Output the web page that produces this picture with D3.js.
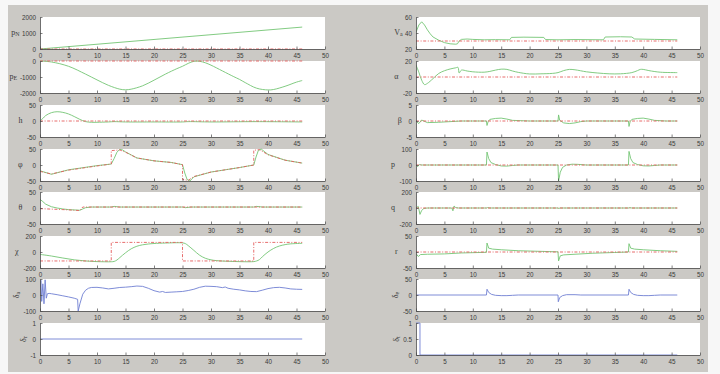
<!DOCTYPE html>
<html>
<head>
<meta charset="utf-8">
<script src="https://cdn.jsdelivr.net/npm/d3@7"></script>
<style>
  html, body { margin: 0; padding: 0; background: #f7f7f7; }
  svg { display: block; font-family: "Liberation Sans", Arial, sans-serif; }
</style>
</head>
<body>
<svg id="fig" width="720" height="374"></svg>
<script>
// ---- time-history data: [t (s), value] ----
const xTicks = [0, 5, 10, 15, 20, 25, 30, 35, 40, 45, 50];

// left column: position / attitude / aileron / rudder
const pNCmd = [[0, 0], [46, 0]];
const pN = [[0, 0], [46, 1370]];
const pECmd = [[0, 0], [46, 0]];
const pE = [[0, 0], [2, -60], [5, -330], [8, -820], [10, -1180], [12, -1520], [14, -1760], [15, -1800], [16, -1760], [18, -1550], [20, -1200], [22, -820], [24, -480], [25, -330], [26, -150], [27, -20], [28, -20], [29, -110], [30, -260], [32, -620], [34, -980], [35, -1150], [36, -1350], [38, -1700], [40, -1810], [41, -1780], [43, -1580], [45, -1320], [46, -1220]];
const hCmd = [[0, 0], [46, 0]];
const h = [[0, 0], [0.5, 8], [1, 17], [2, 26], [3, 29], [4, 27], [5, 22], [6, 14], [7, 5], [8, -2], [9, -4], [10, -4], [12, -3], [13, -2], [15, -3], [20, -3], [25, -3], [26, -2], [30, -3], [38, -2], [46, -3]];
const phiCmd = [[0, -20], [2, -28], [5, -16], [10, -3], [12.5, 3], [12.5, 45], [14, 47], [15, 40], [17, 22], [20, 13], [23, 8], [25, 1], [25, -45], [26, -48], [27, -36], [30, -22], [35, -8], [37.5, 0], [37.5, 46], [38.5, 48], [40, 32], [43, 15], [46, 6]];
const phi = [[0, -18], [2, -29], [5, -15], [10, -2], [12.5, 3], [13, 20], [13.5, 40], [14, 49], [14.5, 47], [15, 41], [17, 22], [20, 13], [23, 8], [25, 1], [25.4, -25], [25.8, -45], [26.3, -50], [27, -37], [30, -22], [35, -8], [37.5, 0], [37.9, 25], [38.3, 45], [38.8, 50], [40, 33], [43, 15], [46, 6]];
const thetaCmd = [[0, -2], [4, -5], [7, -8], [7.5, 3], [46, 3]];
const theta = [[0, 27], [0.5, 20], [1, 12], [2, 4], [3, 0], [4, -3], [5, -5], [6, -6], [7, -7], [7.5, -3], [8, 1], [9, 3], [12.5, 3], [13, 5], [14, 3], [25, 3], [25.5, 1], [26.5, 3], [37.5, 3], [38, 5], [39, 3], [46, 3]];
const chiCmd = [[0, -112], [12.5, -112], [12.5, 120], [25, 120], [25, -112], [37.5, -112], [37.5, 120], [46, 120]];
const chi = [[0, -30], [2, -50], [4, -75], [6, -98], [8, -112], [10, -120], [12.5, -122], [13, -118], [13.5, -100], [14, -70], [15, -10], [16, 40], [17, 72], [18, 90], [19, 100], [20, 106], [22, 112], [25, 114], [25.5, 105], [26, 80], [27, 20], [28, -40], [29, -78], [30, -98], [31, -108], [33, -116], [37.5, -120], [38, -112], [38.5, -95], [39, -60], [40, 0], [41, 45], [42, 75], [43, 92], [44, 102], [46, 108]];
const deltaA = [[0, 0], [0.15, 92], [0.3, -40], [0.5, 70], [0.7, -55], [0.9, 95], [1.1, -20], [1.3, 8], [1.6, 10], [2, 8], [3, 2], [4, -5], [5, -12], [6, -20], [6.6, -27], [6.7, -100], [7, -55], [7.5, 5], [8, 30], [8.5, 42], [9, 47], [10, 48], [11, 44], [12, 38], [13, 42], [14, 47], [15, 49], [16, 52], [17, 56], [18, 54], [19, 42], [20, 27], [21, 18], [21.5, 22], [22, 16], [23, 18], [24, 20], [25, 22], [26, 28], [27, 36], [28, 48], [29, 55], [30, 54], [31, 52], [32, 46], [32.5, 50], [33, 42], [34, 36], [35, 32], [36, 26], [37, 22], [38, 21], [39, 30], [40, 40], [41, 46], [42, 48], [43, 44], [44, 38], [45, 36], [46, 35]];
const deltaR = [[0, 0], [46, 0]];

// right column: airspeed / angles / rates / elevator / throttle
const VaCmd = [[0, 30], [46, 30]];
const Va = [[0, 41], [0.5, 50], [1, 54], [1.5, 50], [2, 44], [2.5, 39], [3, 35], [4, 31], [5, 28], [6, 26.5], [7, 26], [7.3, 26.5], [7.6, 30], [8, 32], [9, 32.5], [10, 32], [12, 31.5], [14, 31.7], [16.5, 31.5], [16.8, 34.5], [19, 34.8], [22.5, 34.5], [22.8, 31.8], [25, 31.5], [28, 31.8], [33, 31.5], [33.3, 35], [36, 35.3], [38, 35], [38.5, 32.5], [42, 32], [46, 31.5]];
const alphaCmd = [[0, 0], [46, 0]];
const alpha = [[0, 15], [0.5, 6], [1, -4], [1.5, -9.5], [2, -8], [3, -2], [4, 4.4], [5, 7.8], [6, 10], [7, 11.5], [7.4, 12], [7.6, 5], [8, 8.6], [9, 7.5], [10, 6.5], [12, 6], [13, 7], [14, 8.6], [15, 9.8], [16, 9.5], [17, 7.5], [18, 5.8], [20, 3.8], [22, 4], [24, 4.5], [25, 5.5], [26, 8], [27, 9.5], [28, 9], [30, 6.5], [32, 5], [34, 4], [36, 4], [38, 5.5], [39, 8], [39.5, 9.5], [40, 9.5], [41, 8], [43, 6], [46, 5.5]];
const betaCmd = [[0, 0], [46, 0]];
const beta = [[0, 0], [0.5, -0.8], [1, 0.3], [2, -0.5], [4, -0.4], [6, -0.2], [8, 0], [12.4, 0], [12.5, -1.4], [12.7, -0.2], [13, 0.5], [14, 0.8], [15, 0.9], [16, 0.6], [17, 0.2], [20, 0], [25, 0], [25.1, 1.9], [25.3, 0.2], [26, -0.6], [27, -0.8], [28, -0.6], [29, -0.2], [30, 0], [37.4, 0], [37.5, -1.7], [37.7, -0.2], [38, 0.5], [39, 0.8], [40, 0.9], [41, 0.6], [42, 0.2], [44, 0], [46, 0]];
const pCmd = [[0, 0], [46, 0]];
const pRate = [[0, 0], [0.3, -10], [0.6, 3], [1, 0], [12.4, 0], [12.5, 81], [12.8, 40], [13.2, 15], [14, 3], [15, -6], [16, -7], [17, -3], [18, 0], [25, 0], [25.1, -100], [25.4, -45], [25.8, -15], [26.5, 0], [27.5, 5], [28.5, 4], [30, 0], [37.4, 0], [37.5, 85], [37.8, 40], [38.2, 15], [39, 3], [40, -5], [41, -6], [42, -3], [43, 0], [46, 0]];
const qCmd = [[0, 0], [46, 0]];
const qRate = [[0, 0], [0.4, 20], [0.7, -80], [1, -30], [1.4, -5], [2, 0], [6.3, 0], [6.5, -35], [6.7, 25], [7, 5], [7.5, 0], [12.5, 0], [12.6, 5], [13, 0], [25, 0], [25.1, -5], [25.4, 0], [37.5, 0], [37.6, 5], [38, 0], [46, 0]];
const rCmd = [[0, 0], [46, 0]];
const rRate = [[0, -5], [0.4, -14], [0.8, -8], [2, -7], [5, -6], [8, -3], [12.4, -1], [12.5, 28], [12.8, 12], [13.5, 9], [15, 7], [18, 4], [22, 2], [25, 0.5], [25.1, -28], [25.4, -12], [26, -9], [28, -7], [31, -4], [35, -1.5], [37.4, 0], [37.5, 26], [37.8, 12], [38.5, 9], [40, 7], [43, 4], [46, 2]];
const deltaE = [[0, 0], [12.4, 0], [12.5, 18], [12.8, 8], [13.3, 2], [14, -1], [15, -2], [16, -2], [17, -1], [18, 0], [25, 0], [25.05, -21], [25.3, -8], [25.8, -2], [26.5, 1], [28, 1], [29, 0], [37.4, 0], [37.5, 18], [37.8, 8], [38.3, 2], [39, -1], [40, -2], [41, -2], [42, -1], [43, 0], [46, 0]];
const deltaT = [[0, 1], [0.7, 1], [0.7, 0], [46, 0]];

// y-axis tick values for each panel
const ticksPN = [0, 1000, 2000];
const ticksPE = [-2000, -1000, 0];
const ticks50 = [-50, 0, 50];
const ticks200 = [-200, 0, 200];
const ticks100 = [-100, 0, 100];
const ticks1 = [-1, 0, 1];
const ticksVa = [20, 40, 60];
const ticks20 = [-20, 0, 20];
const ticks5 = [-5, 0, 5];
const ticksT = [0, 0.5, 1];

// ---- panel definitions (label parts: [text, isSubscript]) ----
const panels = [
  { col: 0, row: 0, label: [["p", 0], ["N", 1]], ticks: ticksPN, series: [["act", pN], ["cmd", pNCmd]] },
  { col: 0, row: 1, label: [["p", 0], ["E", 1]], ticks: ticksPE, series: [["act", pE, "smooth"], ["cmd", pECmd]] },
  { col: 0, row: 2, label: [["h", 0]], ticks: ticks50, series: [["act", h, "smooth"], ["cmd", hCmd]] },
  { col: 0, row: 3, label: [["φ", 0]], ticks: ticks50, series: [["act", phi], ["cmd", phiCmd]] },
  { col: 0, row: 4, label: [["θ", 0]], ticks: ticks50, series: [["act", theta], ["cmd", thetaCmd]] },
  { col: 0, row: 5, label: [["χ", 0]], ticks: ticks200, series: [["act", chi, "smooth"], ["cmd", chiCmd]] },
  { col: 0, row: 6, label: [["δ", 0], ["a", 1]], rot: true, ticks: ticks100, series: [["inp", deltaA]] },
  { col: 0, row: 7, label: [["δ", 0], ["r", 1]], rot: true, ticks: ticks1, series: [["inp", deltaR]] },
  { col: 1, row: 0, label: [["V", 0], ["a", 1]], ticks: ticksVa, series: [["act", Va], ["cmd", VaCmd]] },
  { col: 1, row: 1, label: [["α", 0]], ticks: ticks20, series: [["act", alpha, "smooth"], ["cmd", alphaCmd]] },
  { col: 1, row: 2, label: [["β", 0]], ticks: ticks5, series: [["act", beta], ["cmd", betaCmd]] },
  { col: 1, row: 3, label: [["p", 0]], ticks: ticks100, series: [["act", pRate], ["cmd", pCmd]] },
  { col: 1, row: 4, label: [["q", 0]], ticks: ticks200, series: [["act", qRate], ["cmd", qCmd]] },
  { col: 1, row: 5, label: [["r", 0]], ticks: ticks50, series: [["act", rRate], ["cmd", rCmd]] },
  { col: 1, row: 6, label: [["δ", 0], ["e", 1]], rot: true, ticks: ticks50, series: [["inp", deltaE]] },
  { col: 1, row: 7, label: [["δ", 0], ["t", 1]], rot: true, ticks: ticksT, series: [["inp", deltaT]] }
];

// ---- layout & styles ----
const cols = [{ x0: 40, x1: 325 }, { x0: 416, x1: 700 }];
const rowTops = [17, 61, 105, 149, 192, 236, 279, 323];
const panelH = 32;
const styles = {
  act: { stroke: "#74c574", width: 0.9, dash: null },
  cmd: { stroke: "#e45c5c", width: 0.9, dash: "3,1.6,1,1.6" },
  inp: { stroke: "#6f7fd2", width: 0.9, dash: null }
};
const axisColor = "#4a4a4a";
const textColor = "#3a3a3a";

const svg = d3.select("#fig");
svg.append("rect").attr("x", 8).attr("y", 5).attr("width", 700).attr("height", 367).attr("fill", "#cbc9c5");

panels.forEach(pn => {
  const c = cols[pn.col];
  const top = rowTops[pn.row], bot = top + panelH;
  const x = d3.scaleLinear().domain([0, 50]).range([c.x0, c.x1]);
  const yd = d3.extent(pn.ticks);
  const y = d3.scaleLinear().domain(yd).range([bot, top]);

  const g = svg.append("g");
  g.append("rect").attr("x", c.x0).attr("y", top).attr("width", c.x1 - c.x0).attr("height", panelH).attr("fill", "#ffffff");

  const clipId = `clip-${pn.col}-${pn.row}`;
  g.append("clipPath").attr("id", clipId).append("rect")
    .attr("x", c.x0).attr("y", top - 1).attr("width", c.x1 - c.x0).attr("height", panelH + 2);

  // response first, commanded dashed line over it
  const order = pn.series.slice().sort((a, b) => (a[0] === "cmd") - (b[0] === "cmd"));
  order.forEach(([kind, data, curve]) => {
    const st = styles[kind];
    const line = d3.line().x(d => x(d[0])).y(d => y(d[1]))
      .curve(curve === "smooth" ? d3.curveCatmullRom.alpha(0.5) : d3.curveLinear);
    g.append("path").attr("d", line(data)).attr("fill", "none")
      .attr("stroke", st.stroke).attr("stroke-width", st.width)
      .attr("stroke-dasharray", st.dash).attr("clip-path", `url(#${clipId})`);
  });

  // axes (inward ticks, MATLAB style)
  const xAxis = d3.axisBottom(x).tickValues(xTicks).tickSizeInner(-2.5).tickSizeOuter(0).tickPadding(4.5);
  const ax = g.append("g").attr("transform", `translate(0,${bot})`).call(xAxis);
  const yAxis = d3.axisLeft(y).tickValues(pn.ticks).tickSizeInner(-2.5).tickSizeOuter(0).tickPadding(4)
    .tickFormat(v => String(v));
  const ay = g.append("g").attr("transform", `translate(${c.x0},0)`).call(yAxis);
  [ax, ay].forEach(a => {
    a.select(".domain").attr("stroke", axisColor).attr("stroke-width", 0.8);
    a.selectAll(".tick line").attr("stroke", axisColor).attr("stroke-width", 0.7);
    a.selectAll(".tick text").attr("fill", textColor).attr("font-size", 6.3).attr("font-family", "Liberation Sans, Arial, sans-serif");
  });

  // y label placed left of the widest tick label
  let maxW = 0;
  ay.selectAll(".tick text").each(function () { maxW = Math.max(maxW, this.getBBox().width); });
  const lx = c.x0 - 4 - maxW - 6;
  const ly = (top + bot) / 2;
  const lab = g.append("text").attr("fill", textColor).attr("font-size", 8)
    .attr("font-family", "Liberation Serif, DejaVu Serif, serif")
    .attr("text-anchor", "middle").attr("dominant-baseline", "middle");
  if (pn.rot) lab.attr("transform", `translate(${lx},${ly}) rotate(-90)`);
  else lab.attr("transform", `translate(${lx},${ly})`);
  pn.label.forEach(([s, sub]) => {
    const ts = lab.append("tspan").text(s);
    if (sub) ts.attr("font-size", 6).attr("dy", 2);
  });
});
</script>
</body>
</html>
